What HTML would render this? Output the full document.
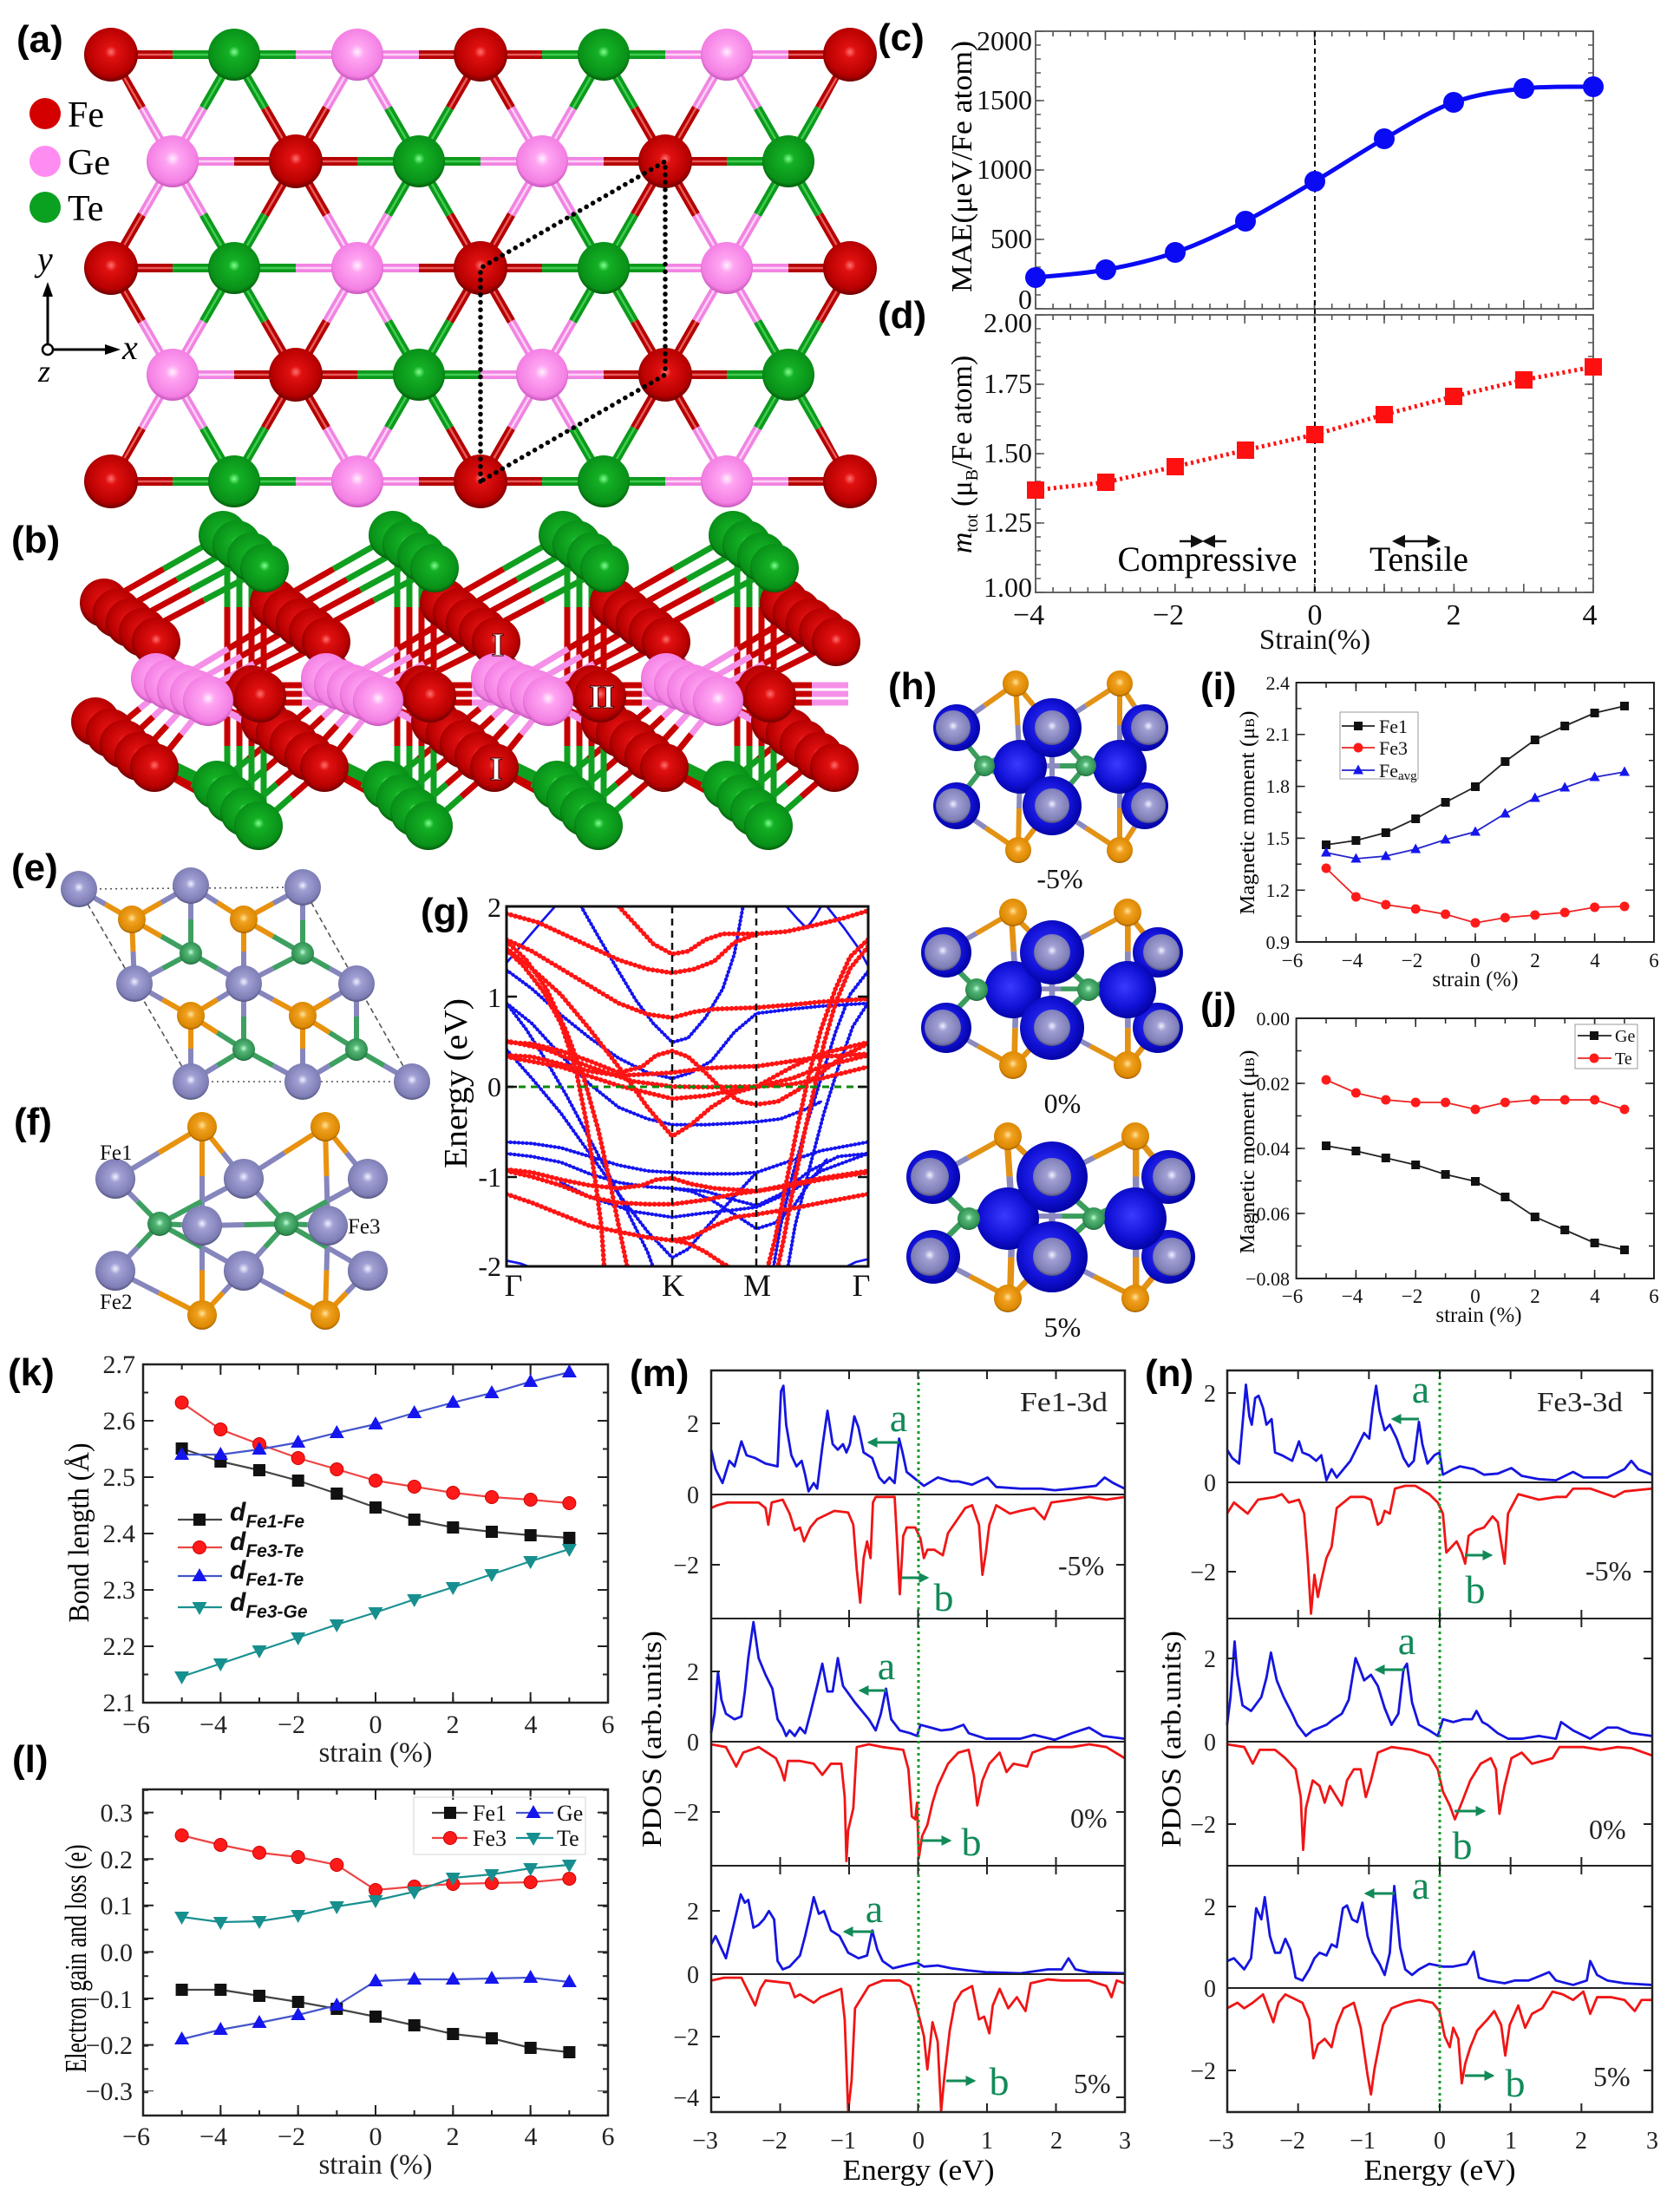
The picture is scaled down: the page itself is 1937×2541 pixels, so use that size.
<!DOCTYPE html>
<html><head><meta charset="utf-8">
<style>
html,body{margin:0;padding:0;background:#fff;overflow:hidden;}
svg{display:block;}
.sf{font-family:"Liberation Serif","DejaVu Serif",serif;}
.ss{font-family:"Liberation Sans","DejaVu Sans",sans-serif;}
.pl{font-family:"Liberation Sans","DejaVu Sans",sans-serif;font-weight:bold;font-size:44px;}
</style></head><body>
<svg width="1937" height="2541" viewBox="0 0 1937 2541" xmlns="http://www.w3.org/2000/svg">
<defs>
<radialGradient id="gFe" cx="0.5" cy="0.45" r="0.55"><stop offset="0" stop-color="#ff7070"/><stop offset="0.2" stop-color="#e01010"/><stop offset="0.8" stop-color="#b80000"/><stop offset="1" stop-color="#700000"/></radialGradient>
<radialGradient id="gGe" cx="0.5" cy="0.45" r="0.55"><stop offset="0" stop-color="#fff0fd"/><stop offset="0.25" stop-color="#ffa4f2"/><stop offset="0.85" stop-color="#f37fe3"/><stop offset="1" stop-color="#c655bb"/></radialGradient>
<radialGradient id="gTe" cx="0.5" cy="0.45" r="0.55"><stop offset="0" stop-color="#80ff90"/><stop offset="0.2" stop-color="#14b024"/><stop offset="0.85" stop-color="#089018"/><stop offset="1" stop-color="#045a0a"/></radialGradient>
<radialGradient id="gPu" cx="0.5" cy="0.45" r="0.55"><stop offset="0" stop-color="#f0f0ff"/><stop offset="0.25" stop-color="#a0a0d4"/><stop offset="0.85" stop-color="#7e7eb6"/><stop offset="1" stop-color="#52527e"/></radialGradient>
<radialGradient id="gOr" cx="0.5" cy="0.45" r="0.55"><stop offset="0" stop-color="#ffe49a"/><stop offset="0.3" stop-color="#f0a020"/><stop offset="0.85" stop-color="#dc8800"/><stop offset="1" stop-color="#9a5800"/></radialGradient>
<radialGradient id="gGr" cx="0.5" cy="0.45" r="0.55"><stop offset="0" stop-color="#c0ffd8"/><stop offset="0.3" stop-color="#55b577"/><stop offset="0.85" stop-color="#2f9052"/><stop offset="1" stop-color="#1c6036"/></radialGradient>
<radialGradient id="gBl" cx="0.45" cy="0.45" r="0.6"><stop offset="0" stop-color="#3a3aff"/><stop offset="0.6" stop-color="#1212d8"/><stop offset="1" stop-color="#00009a"/></radialGradient>

<clipPath id="clipA"><polygon points="122,57 986,57 916,186 986,309 916,432 986,561 122,561 192,432 122,309 192,186"/></clipPath>
<clipPath id="clipG"><rect x="584" y="1045" width="417" height="415"/></clipPath>

<marker id="ahG" viewBox="0 0 10 10" refX="8" refY="5" markerWidth="4" markerHeight="4" orient="auto"><path d="M0 0L10 5L0 10Z" fill="#128a58"/></marker>
<marker id="ahK" viewBox="0 0 10 10" refX="8" refY="5" markerWidth="6" markerHeight="6" orient="auto"><path d="M0 0L10 5L0 10Z" fill="#111"/></marker>

<g id="spFe"><path d="M0 0H71M0 0L35.5 61.5M0 0L-35.5 61.5M0 0H-71M0 0L-35.5 -61.5M0 0L35.5 -61.5" stroke="#b40000" stroke-width="10"/><path d="M0 0H71M0 0L35.5 61.5M0 0L-35.5 61.5M0 0H-71M0 0L-35.5 -61.5M0 0L35.5 -61.5" stroke="#e85a5a" stroke-width="2.5"/></g>
<g id="spGe"><path d="M0 0H71M0 0L35.5 61.5M0 0L-35.5 61.5M0 0H-71M0 0L-35.5 -61.5M0 0L35.5 -61.5" stroke="#f184e2" stroke-width="10"/><path d="M0 0H71M0 0L35.5 61.5M0 0L-35.5 61.5M0 0H-71M0 0L-35.5 -61.5M0 0L35.5 -61.5" stroke="#ffd2f8" stroke-width="2.5"/></g>
<g id="spTe"><path d="M0 0H71M0 0L35.5 61.5M0 0L-35.5 61.5M0 0H-71M0 0L-35.5 -61.5M0 0L35.5 -61.5" stroke="#0c9a1c" stroke-width="10"/><path d="M0 0H71M0 0L35.5 61.5M0 0L-35.5 61.5M0 0H-71M0 0L-35.5 -61.5M0 0L35.5 -61.5" stroke="#40cc50" stroke-width="2.5"/></g>
<circle id="aFe" r="31" fill="url(#gFe)"/>
<circle id="aGe" r="30" fill="url(#gGe)"/>
<circle id="aTe" r="30" fill="url(#gTe)"/>

<g id="bBond" fill="none" stroke-width="7">
<path stroke="#c80000" d="M120 695L188.5 656M135 706.3L204 668M150 717.6L219.5 680M165 729L235 692M286.5 656L316 695M302 668L331 706.3M317.5 680L346 717.6M333 692L361 729M135 707L165 748M150 718L180 756.5M165 729L195 765M180 740L210 774M127 845L161 817M143 858L176.5 826.5M160 872L192.5 836.5M178 885L209 846.5M259 817L323 845M274.5 826.5L339 858M290.5 836.5L356 872M307 846.5L374 885M263 748L331 707M278 756.5L346 718M293 765L361 729M308 774L376 740M305 790L348 790M305 800L348 800M305 810L348 810M127 845L188.5 875M143 858L204.5 889.5M160 872L221 904M178 885L238 918.5M286.5 875L323 845M302.5 889.5L339 858M319 904L356 872M336 918.5L374 885M262 700V860M276 700V860M290 700V860M304 700V860"/>
<path stroke="#10a020" d="M188.5 656L257 617M204 668L273 629.7M219.5 680L289 642.4M235 692L305 655M257 617L286.5 656M273 629.7L302 668M289 642.4L317.5 680M305 655L333 692M188.5 875L250 905M204.5 889.5L266 921M221 904L282 936M238 918.5L298 952M250 905L286.5 875M266 921L302.5 889.5M282 936L319 904M298 952L336 918.5M262 645V700M276 645V700M290 645V700M304 645V700M262 860V935M276 860V935M290 860V935M304 860V935"/>
<path stroke="#f590e8" d="M195 789L165 748M210 795L180 756.5M225 801L195 765M240 808L210 774M195 789L161 817M210 795L176.5 826.5M225 801L192.5 836.5M240 808L209 846.5M195 789L259 817M210 795L274.5 826.5M225 801L290.5 836.5M240 808L307 846.5M195 789L263 748M210 795L278 756.5M225 801L293 765M240 808L308 774M348 790L390 790M348 800L390 800M348 810L390 810"/>
</g>
<g id="bRU" fill="url(#gFe)"><circle cx="120" cy="695" r="28"/><circle cx="135" cy="707" r="28"/><circle cx="150" cy="718" r="28"/><circle cx="165" cy="729" r="28"/><circle cx="180" cy="740" r="28"/></g>
<g id="bGT" fill="url(#gTe)"><circle cx="257" cy="617" r="28"/><circle cx="273" cy="628" r="28"/><circle cx="290" cy="642" r="28"/><circle cx="305" cy="655" r="28"/></g>
<g id="bRL" fill="url(#gFe)"><circle cx="110" cy="832" r="28"/><circle cx="127" cy="845" r="28"/><circle cx="143" cy="858" r="28"/><circle cx="160" cy="872" r="28"/><circle cx="178" cy="885" r="28"/></g>
<g id="bMR" fill="url(#gFe)"><circle cx="290" cy="795" r="28"/><circle cx="300" cy="803" r="30"/></g>
<g id="bGe" fill="url(#gGe)"><circle cx="180" cy="782" r="29"/><circle cx="195" cy="789" r="29"/><circle cx="210" cy="795" r="29"/><circle cx="225" cy="801" r="29"/><circle cx="240" cy="808" r="29"/></g>
<g id="bGB" fill="url(#gTe)"><circle cx="250" cy="905" r="28"/><circle cx="266" cy="921" r="28"/><circle cx="282" cy="936" r="28"/><circle cx="298" cy="952" r="28"/></g>

<g id="hBond" fill="none" stroke-width="6">
<path stroke="#e39214" d="M1171 788L1135 813.5M1171 788L1192 813.5M1171 788L1173.5 836M1291 788L1252 813.5M1291 788L1307.5 813.5M1291 788L1291 836M1174 980L1136.5 954.5M1174 980L1193.5 954.5M1174 980L1175 932M1291 980L1252 954.5M1291 980L1307.5 954.5M1291 980L1291 932"/>
<path stroke="#8a8ac0" d="M1099 839L1135 813.5M1213 839L1192 813.5M1213 839L1252 813.5M1324 839L1307.5 813.5M1176 884L1173.5 836M1176 884L1175 932M1291 884L1291 836M1291 884L1291 932M1099 839L1117 861M1099 929L1117 906M1213 839L1174 861M1213 929L1174 906M1213 839L1232.5 861M1213 929L1232.5 906M1324 839L1288 861M1324 929L1288 906M1165 883L1222 883M1099 929L1136.5 954.5M1213 929L1193.5 954.5M1213 929L1252 954.5M1324 929L1307.5 954.5M1213 839L1213 929"/>
<path stroke="#3b9d5d" d="M1135 883L1117 861M1135 883L1117 906M1135 883L1174 861M1135 883L1174 906M1135 883L1165 883M1252 883L1232.5 861M1252 883L1232.5 906M1252 883L1288 861M1252 883L1288 906M1252 883L1222 883"/>
</g>

<rect id="mS" x="-7" y="-7" width="14" height="14" fill="#111"/>
<circle id="mC" r="7.5" fill="#ff1a1a" stroke="#c00" stroke-width="1"/>
<path id="mT" d="M0 -9L8.5 6L-8.5 6Z" fill="#1515ee"/>
<path id="mD" d="M0 9L8.5 -6L-8.5 -6Z" fill="#178f8f"/>
<rect id="sS" x="-5" y="-5" width="10" height="10" fill="#111"/>
<circle id="sC" r="5.5" fill="#ff1a1a"/>
<path id="sT" d="M0 -6.5L6 4.5L-6 4.5Z" fill="#1515ee"/>
</defs>

<rect width="1937" height="2541" fill="#fff"/>

<!-- ================= (a) ================= -->
<g clip-path="url(#clipA)">
<use href="#spFe" x="128" y="63"/><use href="#spTe" x="270" y="63"/><use href="#spGe" x="412" y="63"/><use href="#spFe" x="554" y="63"/><use href="#spTe" x="696" y="63"/><use href="#spGe" x="838" y="63"/><use href="#spFe" x="980" y="63"/>
<use href="#spGe" x="199" y="186"/><use href="#spFe" x="341" y="186"/><use href="#spTe" x="483" y="186"/><use href="#spGe" x="625" y="186"/><use href="#spFe" x="767" y="186"/><use href="#spTe" x="909" y="186"/>
<use href="#spFe" x="128" y="309"/><use href="#spTe" x="270" y="309"/><use href="#spGe" x="412" y="309"/><use href="#spFe" x="554" y="309"/><use href="#spTe" x="696" y="309"/><use href="#spGe" x="838" y="309"/><use href="#spFe" x="980" y="309"/>
<use href="#spGe" x="199" y="432"/><use href="#spFe" x="341" y="432"/><use href="#spTe" x="483" y="432"/><use href="#spGe" x="625" y="432"/><use href="#spFe" x="767" y="432"/><use href="#spTe" x="909" y="432"/>
<use href="#spFe" x="128" y="555"/><use href="#spTe" x="270" y="555"/><use href="#spGe" x="412" y="555"/><use href="#spFe" x="554" y="555"/><use href="#spTe" x="696" y="555"/><use href="#spGe" x="838" y="555"/><use href="#spFe" x="980" y="555"/>
</g>
<use href="#aFe" x="128" y="63"/><use href="#aTe" x="270" y="63"/><use href="#aGe" x="412" y="63"/><use href="#aFe" x="554" y="63"/><use href="#aTe" x="696" y="63"/><use href="#aGe" x="838" y="63"/><use href="#aFe" x="980" y="63"/>
<use href="#aGe" x="199" y="186"/><use href="#aFe" x="341" y="186"/><use href="#aTe" x="483" y="186"/><use href="#aGe" x="625" y="186"/><use href="#aFe" x="767" y="186"/><use href="#aTe" x="909" y="186"/>
<use href="#aFe" x="128" y="309"/><use href="#aTe" x="270" y="309"/><use href="#aGe" x="412" y="309"/><use href="#aFe" x="554" y="309"/><use href="#aTe" x="696" y="309"/><use href="#aGe" x="838" y="309"/><use href="#aFe" x="980" y="309"/>
<use href="#aGe" x="199" y="432"/><use href="#aFe" x="341" y="432"/><use href="#aTe" x="483" y="432"/><use href="#aGe" x="625" y="432"/><use href="#aFe" x="767" y="432"/><use href="#aTe" x="909" y="432"/>
<use href="#aFe" x="128" y="555"/><use href="#aTe" x="270" y="555"/><use href="#aGe" x="412" y="555"/><use href="#aFe" x="554" y="555"/><use href="#aTe" x="696" y="555"/><use href="#aGe" x="838" y="555"/><use href="#aFe" x="980" y="555"/>
<path d="M554 555L554 309L767 186L767 432Z" fill="none" stroke="#000" stroke-width="5.5" stroke-linecap="round" stroke-dasharray="0.1 8.5"/>
<text class="pl" x="19" y="60">(a)</text>
<circle cx="52" cy="131" r="18" fill="#d40000"/><circle cx="52" cy="186" r="18" fill="#ff8cf0"/><circle cx="52" cy="239" r="18" fill="#0aa020"/>
<text class="sf" font-size="42" x="78" y="146">Fe</text>
<text class="sf" font-size="42" x="78" y="201">Ge</text>
<text class="sf" font-size="42" x="78" y="254">Te</text>
<line x1="55" y1="403" x2="55" y2="338" stroke="#000" stroke-width="3"/><path d="M55 325L49 342L61 342Z" fill="#000"/>
<line x1="55" y1="403" x2="124" y2="403" stroke="#000" stroke-width="3"/><path d="M139 403L121 397L121 409Z" fill="#000"/>
<circle cx="55" cy="403" r="6" fill="#fff" stroke="#000" stroke-width="2.5"/>
<text class="sf" font-style="italic" font-size="40" x="43" y="312">y</text>
<text class="sf" font-style="italic" font-size="40" x="141" y="414">x</text>
<text class="sf" font-style="italic" font-size="36" x="44" y="440">z</text>

<!-- ================= (b) ================= -->
<use href="#bBond"/><use href="#bBond" transform="translate(196,0)"/><use href="#bBond" transform="translate(392,0)"/><use href="#bBond" transform="translate(588,0)"/>
<use href="#bRU"/><use href="#bRU" transform="translate(196,0)"/><use href="#bRU" transform="translate(392,0)"/><use href="#bRU" transform="translate(588,0)"/><use href="#bRU" transform="translate(784,0)"/>
<use href="#bGT"/><use href="#bGT" transform="translate(196,0)"/><use href="#bGT" transform="translate(392,0)"/><use href="#bGT" transform="translate(588,0)"/>
<use href="#bRL"/><use href="#bRL" transform="translate(196,0)"/><use href="#bRL" transform="translate(392,0)"/><use href="#bRL" transform="translate(588,0)"/><use href="#bRL" transform="translate(784,0)"/>
<use href="#bMR"/><use href="#bMR" transform="translate(196,0)"/><use href="#bMR" transform="translate(392,0)"/><use href="#bMR" transform="translate(588,0)"/>
<use href="#bGe"/><use href="#bGe" transform="translate(196,0)"/><use href="#bGe" transform="translate(392,0)"/><use href="#bGe" transform="translate(588,0)"/>
<use href="#bGB"/><use href="#bGB" transform="translate(196,0)"/><use href="#bGB" transform="translate(392,0)"/><use href="#bGB" transform="translate(588,0)"/>
<g class="sf" font-weight="bold" font-size="38" fill="#fff" stroke="#3a0000" stroke-width="1" text-anchor="middle">
<text x="574" y="756">I</text><text x="694" y="816">II</text><text x="572" y="899">I</text></g>
<text class="pl" x="13" y="637">(b)</text>

<!-- ================= (c)/(d) ================= -->
<text class="pl" x="1012" y="58">(c)</text>
<text class="pl" x="1012" y="378">(d)</text>
<rect x="1194" y="36" width="643" height="320" fill="none" stroke="#666" stroke-width="2"/>
<rect x="1194" y="363" width="643" height="320" fill="none" stroke="#666" stroke-width="2"/>
<g stroke="#555">
<line x1="1194" y1="353" x2="1837" y2="353" stroke-width="6" stroke-dasharray="1.6 18.5" stroke-dashoffset="0.8"/>
<line x1="1194" y1="351" x2="1837" y2="351" stroke-width="10" stroke-dasharray="1.6 78.8" stroke-dashoffset="0.8"/>
<line x1="1194" y1="39" x2="1837" y2="39" stroke-width="6" stroke-dasharray="1.6 18.5" stroke-dashoffset="0.8"/>
<line x1="1194" y1="41" x2="1837" y2="41" stroke-width="10" stroke-dasharray="1.6 78.8" stroke-dashoffset="0.8"/>
<line x1="1194" y1="366" x2="1837" y2="366" stroke-width="6" stroke-dasharray="1.6 18.5" stroke-dashoffset="0.8"/>
<line x1="1194" y1="368" x2="1837" y2="368" stroke-width="10" stroke-dasharray="1.6 78.8" stroke-dashoffset="0.8"/>
<line x1="1194" y1="680" x2="1837" y2="680" stroke-width="6" stroke-dasharray="1.6 18.5" stroke-dashoffset="0.8"/>
<line x1="1194" y1="678" x2="1837" y2="678" stroke-width="10" stroke-dasharray="1.6 78.8" stroke-dashoffset="0.8"/>
<line x1="1197" y1="356" x2="1197" y2="36" stroke-width="6" stroke-dasharray="1.6 14.4" stroke-dashoffset="0.8"/>
<line x1="1199" y1="356" x2="1199" y2="36" stroke-width="10" stroke-dasharray="1.6 78.4" stroke-dashoffset="0.8"/>
<line x1="1834" y1="356" x2="1834" y2="36" stroke-width="6" stroke-dasharray="1.6 14.4" stroke-dashoffset="0.8"/>
<line x1="1832" y1="356" x2="1832" y2="36" stroke-width="10" stroke-dasharray="1.6 78.4" stroke-dashoffset="0.8"/>
<line x1="1197" y1="683" x2="1197" y2="363" stroke-width="6" stroke-dasharray="1.6 14.4" stroke-dashoffset="0.8"/>
<line x1="1199" y1="683" x2="1199" y2="363" stroke-width="10" stroke-dasharray="1.6 78.4" stroke-dashoffset="0.8"/>
<line x1="1834" y1="683" x2="1834" y2="363" stroke-width="6" stroke-dasharray="1.6 14.4" stroke-dashoffset="0.8"/>
<line x1="1832" y1="683" x2="1832" y2="363" stroke-width="10" stroke-dasharray="1.6 78.4" stroke-dashoffset="0.8"/>
</g>
<line x1="1516" y1="36" x2="1516" y2="683" stroke="#111" stroke-width="2" stroke-dasharray="6 4"/>
<path d="M1194 320 C1207.5 318.5 1248.2 315.8 1275 311 C1301.8 306.2 1328.2 300.3 1355 291 C1381.8 281.7 1409.2 268.7 1436 255 C1462.8 241.3 1489.3 224.8 1516 209 C1542.7 193.2 1569.3 175.2 1596 160 C1622.7 144.8 1649.2 127.7 1676 118 C1702.8 108.3 1730.2 105 1757 102 C1783.8 99 1823.7 100.3 1837 100" fill="none" stroke="#0a0af5" stroke-width="5"/>
<g fill="#0a0af5"><circle cx="1194" cy="320" r="12"/><circle cx="1275" cy="311" r="12"/><circle cx="1355" cy="291" r="12"/><circle cx="1436" cy="255" r="12"/><circle cx="1516" cy="209" r="12"/><circle cx="1596" cy="160" r="12"/><circle cx="1676" cy="118" r="12"/><circle cx="1757" cy="102" r="12"/><circle cx="1837" cy="100" r="12"/></g>
<polyline points="1194,565 1275,556 1355,538 1436,519 1516,501 1596,478 1676,457 1757,438 1837,423" fill="none" stroke="#ff1010" stroke-width="5" stroke-dasharray="3 4"/>
<g fill="#ff1010"><rect x="1184" y="555" width="20" height="20"/><rect x="1265" y="546" width="20" height="20"/><rect x="1345" y="528" width="20" height="20"/><rect x="1426" y="509" width="20" height="20"/><rect x="1506" y="491" width="20" height="20"/><rect x="1586" y="468" width="20" height="20"/><rect x="1666" y="447" width="20" height="20"/><rect x="1747" y="428" width="20" height="20"/><rect x="1827" y="413" width="20" height="20"/></g>
<g class="sf" font-size="32" text-anchor="end" fill="#111">
<text x="1190" y="58">2000</text><text x="1190" y="126">1500</text><text x="1190" y="206">1000</text><text x="1190" y="286">500</text><text x="1190" y="356">0</text>
<text x="1190" y="383">2.00</text><text x="1190" y="453">1.75</text><text x="1190" y="533">1.50</text><text x="1190" y="613">1.25</text><text x="1190" y="688">1.00</text>
</g>
<g class="sf" font-size="34" text-anchor="middle" fill="#111">
<text x="1186" y="720">−4</text><text x="1347" y="720">−2</text><text x="1516" y="720">0</text><text x="1676" y="720">2</text><text x="1833" y="720">4</text>
<text x="1516" y="748" font-size="33">Strain(%)</text>
</g>
<text class="sf" font-size="34" text-anchor="middle" transform="translate(1120,192) rotate(-90)" textLength="290" lengthAdjust="spacingAndGlyphs">MAE(μeV/Fe atom)</text>
<text class="sf" font-size="34" text-anchor="middle" transform="translate(1120,524) rotate(-90)"><tspan font-style="italic">m</tspan><tspan font-size="20" dy="7">tot</tspan><tspan dy="-7"> (μ</tspan><tspan font-size="20" dy="7">B</tspan><tspan dy="-7">/Fe atom)</tspan></text>
<text class="sf" font-size="40" x="1392" y="658" text-anchor="middle" textLength="207" lengthAdjust="spacingAndGlyphs">Compressive</text>
<text class="sf" font-size="40" x="1636" y="658" text-anchor="middle" textLength="114" lengthAdjust="spacingAndGlyphs">Tensile</text>
<g stroke="#111" stroke-width="2.5"><line x1="1360" y1="624" x2="1385" y2="624" marker-end="url(#ahK)"/><line x1="1414" y1="624" x2="1389" y2="624" marker-end="url(#ahK)"/><line x1="1633" y1="624" x2="1608" y2="624" marker-end="url(#ahK)"/><line x1="1633" y1="624" x2="1658" y2="624" marker-end="url(#ahK)"/></g>

<!-- ================= (e) ================= -->
<text class="pl" x="13" y="1015">(e)</text>
<g fill="none" stroke="#555" stroke-width="1.6">
<path d="M91 1025L349 1023M220 1247L475 1247" stroke-dasharray="2 4"/>
<path d="M349 1023L475 1247M91 1025L220 1247" stroke-dasharray="6 4"/>
</g>
<g fill="none" stroke-width="6">
<path stroke="#8686bd" d="M91 1025L121.5 1042.5M220 1021L186 1040.5M220 1021L250.5 1040.5M349 1023L315 1041.5M155 1134L153.5 1097M281 1134L281 1097M220 1021L220 1060M349 1023L349 1061M155 1134L187.5 1116.5M281 1134L250.5 1116.5M281 1134L315 1116.5M411 1134L380 1116.5M155 1134L187.5 1152.5M281 1134L250.5 1152.5M281 1134L315 1152.5M411 1134L380 1152.5M220 1247L220 1209M349 1247L349 1209M281 1134L281 1172M220 1247L250.5 1228.5M349 1247L315 1228.5M411 1134L411 1172M349 1247L380 1228.5M475 1247L443 1228.5"/>
<path stroke="#e8920e" d="M152 1060L121.5 1042.5M152 1060L186 1040.5M152 1060L153.5 1097M152 1060L186 1079.5M281 1060L250.5 1040.5M281 1060L315 1041.5M281 1060L281 1097M281 1060L315 1079.5M220 1171L187.5 1152.5M220 1171L250.5 1152.5M220 1171L220 1209M220 1171L250.5 1190.5M349 1171L315 1152.5M349 1171L380 1152.5M349 1171L349 1209M349 1171L380 1190.5"/>
<path stroke="#3da060" d="M220 1099L220 1060M220 1099L187.5 1116.5M220 1099L250.5 1116.5M220 1099L186 1079.5M349 1099L349 1061M349 1099L315 1116.5M349 1099L380 1116.5M349 1099L315 1079.5M281 1210L281 1172M281 1210L250.5 1228.5M281 1210L315 1228.5M281 1210L250.5 1190.5M411 1210L411 1172M411 1210L380 1228.5M411 1210L443 1228.5M411 1210L380 1190.5"/>
</g>
<g fill="url(#gPu)"><circle cx="91" cy="1025" r="21"/><circle cx="220" cy="1021" r="21"/><circle cx="349" cy="1023" r="21"/><circle cx="155" cy="1134" r="21"/><circle cx="281" cy="1134" r="21"/><circle cx="411" cy="1134" r="21"/><circle cx="220" cy="1247" r="21"/><circle cx="349" cy="1247" r="21"/><circle cx="475" cy="1247" r="21"/></g>
<g fill="url(#gOr)"><circle cx="152" cy="1060" r="16"/><circle cx="281" cy="1060" r="16"/><circle cx="220" cy="1171" r="16"/><circle cx="349" cy="1171" r="16"/></g>
<g fill="url(#gGr)"><circle cx="220" cy="1099" r="13"/><circle cx="349" cy="1099" r="13"/><circle cx="281" cy="1210" r="13"/><circle cx="411" cy="1210" r="13"/></g>

<!-- ================= (f) ================= -->
<text class="pl" x="16" y="1308">(f)</text>
<g fill="none" stroke-width="6">
<path stroke="#e8920e" d="M233 1299L183 1329M233 1299L257 1329M233 1299L233 1356M375 1299L328 1329M375 1299L399.5 1329M375 1299L376.5 1356M233 1516L183 1490.5M233 1516L257 1490.5M375 1516L328 1490.5M375 1516L399.5 1490.5M233 1516L233 1464.5M375 1516L376.5 1464.5"/>
<path stroke="#8686bd" d="M133 1359L183 1329M281 1359L257 1329M233 1413L233 1356M281 1359L328 1329M424 1359L399.5 1329M378 1413L376.5 1356M133 1359L158.5 1385M281 1359L232.5 1385M281 1359L305.5 1385M424 1359L377 1385M233 1413L208.5 1412M233 1413L281.5 1412M378 1413L354 1412M133 1465L158.5 1438M281 1465L232.5 1438M281 1465L305.5 1438M424 1465L377 1438M133 1465L183 1490.5M281 1465L257 1490.5M281 1465L328 1490.5M424 1465L399.5 1490.5M233 1413L233 1464.5M378 1413L376.5 1464.5"/>
<path stroke="#3da060" d="M184 1411L158.5 1385M184 1411L232.5 1385M330 1411L305.5 1385M330 1411L377 1385M184 1411L208.5 1412M330 1411L281.5 1412M330 1411L354 1412M184 1411L158.5 1438M184 1411L232.5 1438M330 1411L305.5 1438M330 1411L377 1438"/>
</g>
<g fill="url(#gPu)"><circle cx="133" cy="1359" r="23"/><circle cx="281" cy="1359" r="23"/><circle cx="424" cy="1359" r="23"/><circle cx="233" cy="1413" r="23"/><circle cx="378" cy="1413" r="23"/><circle cx="133" cy="1465" r="23"/><circle cx="281" cy="1465" r="23"/><circle cx="424" cy="1465" r="23"/></g>
<g fill="url(#gGr)"><circle cx="184" cy="1411" r="14"/><circle cx="330" cy="1411" r="14"/></g>
<g fill="url(#gOr)"><circle cx="233" cy="1299" r="17"/><circle cx="375" cy="1299" r="17"/><circle cx="233" cy="1516" r="17"/><circle cx="375" cy="1516" r="17"/></g>
<g class="sf" font-size="25" fill="#111"><text x="115" y="1337">Fe1</text><text x="115" y="1509">Fe2</text><text x="401" y="1422">Fe3</text></g>

<!-- ================= (g) ================= -->
<text class="pl" x="485" y="1066">(g)</text>
<g clip-path="url(#clipG)">
<g transform="translate(580,1030) scale(0.33333)" fill="none" stroke-linejoin="round" stroke-linecap="round">
<g stroke="#1414f0" stroke-width="8">
<polyline id="B1" points="12,240 80,160 140,90 180,45"/>
<polyline id="B2" points="270,45 330,150 400,270 460,370 520,450 585,515 640,500 700,430 760,330 800,210 830,45"/>
<polyline id="B3" points="12,265 100,330 200,420 300,500 400,570 500,620 585,640 650,620 720,580 800,480 877,415 1000,400 1100,390 1262,380"/>
<polyline id="B4" points="12,380 100,450 200,560 300,660 400,740 500,780 585,800 700,800 800,795 877,790 960,780 1050,745 1100,720"/>
<polyline id="B5" points="12,540 100,640 200,760 300,900 400,1040 500,1170 585,1260 640,1230 700,1160 780,1070 877,965"/>
<polyline id="B6" points="12,860 100,865 200,880 300,910 400,940 500,960 585,965 700,970 800,970 877,965 980,930 1100,890 1262,860"/>
<polyline id="B7" points="12,900 100,910 200,930 300,970 400,1000 500,1015 585,1020 700,1030 800,1060 877,1080 960,1040 1060,960 1160,910 1262,900"/>
<polyline id="B9" points="585,1020 650,1030 720,1060 800,1110 877,1160 940,1140 1000,1090 1060,1000 1120,920"/>
<polyline id="B10" points="12,1270 60,1280 100,1295"/>
<polyline id="B11" points="1180,1295 1220,1275 1262,1265"/>
<polyline id="B12" points="1262,270 1200,350 1150,480 1100,640 1050,800 1000,980 960,1150 935,1295"/>
<polyline id="B13" points="1262,380 1210,460 1160,600 1110,760 1060,950 1010,1150 985,1295"/>
<polyline id="B14" points="980,45 1020,90 1050,120 1080,80 1100,45"/>
<polyline id="B15" points="1120,45 1180,120 1230,190 1262,250"/>
<polyline id="B16" points="12,380 80,470 150,580 220,700 300,850 380,1000 450,1140 500,1240 520,1295"/>
<polyline id="B18" points="200,1000 300,1050 450,1100 585,1120 700,1105 800,1095 877,1085 1000,1030 1100,960 1262,900"/>
</g>
<g stroke="#1414f0" stroke-width="13" stroke-dasharray="0 14">
<use href="#B2"/><use href="#B3"/><use href="#B4"/><use href="#B5"/><use href="#B6"/><use href="#B7"/><use href="#B9"/><use href="#B12"/><use href="#B13"/><use href="#B16"/><use href="#B18"/>
</g>
<g stroke="#ff1414" stroke-width="10">
<polyline id="R1" points="12,70 120,100 250,160 400,230 500,262 585,275 660,262 730,235 800,170 877,140 980,132 1070,112 1180,85 1262,60"/>
<polyline id="R2" points="400,45 460,110 520,175 585,210 640,200 700,160 760,140 877,140"/>
<polyline id="R3" points="12,160 100,200 200,260 300,320 400,380 500,418 585,430 660,410 730,400 877,395 1000,385 1100,375 1262,365"/>
<polyline id="R4" points="12,190 100,260 200,350 300,470 400,600 500,740 585,840 650,800 720,740 800,690 877,668 1000,600 1100,555 1262,515"/>
<polyline id="R5" points="12,515 100,520 200,545 300,580 400,620 480,600 530,560 585,545 640,565 700,620 760,680 820,720 877,730 950,720 1020,680 1100,620 1180,560 1262,520"/>
<polyline id="R6" points="12,560 100,565 200,590 300,615 400,630 500,625 585,620 700,605 800,600 877,598 1000,580 1100,565 1262,555"/>
<polyline id="R7" points="12,510 150,540 300,600 450,650 585,668 700,670 877,668 1000,640 1100,600 1262,560"/>
<polyline id="R8" points="12,565 200,600 400,665 585,710 700,700 800,680 877,668 1000,660 1100,640 1262,600"/>
<polyline id="R9" points="1262,160 1200,220 1150,330 1100,470 1060,620 1020,800 980,1000 940,1200 915,1295"/>
<polyline id="R10" points="1262,185 1200,260 1150,380 1110,520 1080,660 1040,840 1000,1040 970,1200 950,1295"/>
<polyline id="R11" points="12,165 80,230 150,330 220,480 280,640 330,820 370,1000 400,1150 430,1295"/>
<polyline id="R12" points="12,195 70,250 140,340 200,450 250,600 290,800 320,1000 340,1150 350,1295"/>
<polyline id="R13" points="12,955 100,965 200,990 300,1010 400,1020 480,1010 530,990 585,985 650,1005 730,1020 877,1030 1000,1005 1100,985 1262,960"/>
<polyline id="R14" points="12,960 100,980 200,1010 300,1050 400,1070 500,1075 585,1075 700,1060 800,1040 877,1030 1000,1010 1100,990 1262,965"/>
<polyline id="R15" points="12,1040 100,1070 200,1110 300,1150 400,1170 500,1190 585,1200 650,1190 730,1150 800,1120 877,1110 1000,1090 1100,1070 1262,1040"/>
<polyline id="R16" points="585,1200 640,1210 700,1240 760,1280 790,1295"/>
</g>
<g stroke="#ff1414" stroke-width="17" stroke-dasharray="0 16">
<use href="#R1"/><use href="#R2"/><use href="#R3"/><use href="#R4"/><use href="#R5"/><use href="#R6"/><use href="#R7"/><use href="#R8"/><use href="#R9"/><use href="#R10"/><use href="#R11"/><use href="#R12"/><use href="#R13"/><use href="#R14"/><use href="#R15"/><use href="#R16"/>
</g>
</g>
</g>
<line x1="584" y1="1253" x2="1001" y2="1253" stroke="#0a8a0a" stroke-width="3" stroke-dasharray="8 6"/>
<line x1="775" y1="1045" x2="775" y2="1460" stroke="#111" stroke-width="2.5" stroke-dasharray="8 6"/>
<line x1="872" y1="1045" x2="872" y2="1460" stroke="#111" stroke-width="2.5" stroke-dasharray="8 6"/>
<rect x="584" y="1045" width="417" height="415" fill="none" stroke="#111" stroke-width="3"/>
<path d="M584 1149h12M584 1253h12M584 1357h12M1001 1149h-12M1001 1253h-12M1001 1357h-12" stroke="#111" stroke-width="2.5"/>
<g class="sf" font-size="32" text-anchor="end" fill="#111"><text x="578" y="1057">2</text><text x="578" y="1161">1</text><text x="578" y="1264">0</text><text x="578" y="1368">-1</text><text x="578" y="1471">-2</text></g>
<g class="sf" font-size="36" text-anchor="middle" fill="#111"><text x="592" y="1494">Γ</text><text x="776" y="1494">K</text><text x="873" y="1494">M</text><text x="993" y="1494">Γ</text></g>
<text class="sf" font-size="38" text-anchor="middle" transform="translate(538,1249) rotate(-90)" textLength="196" lengthAdjust="spacingAndGlyphs">Energy (eV)</text>

<!-- ================= (h) ================= -->
<text class="pl" x="1024" y="806">(h)</text>
<use href="#hBond"/>
<use href="#hBond" transform="translate(1213,1141) scale(1.12,0.92) translate(-1213,-884)"/>
<use href="#hBond" transform="translate(1213,1403) scale(1.24,0.97) translate(-1213,-884)"/>
<g fill="url(#gBl)">
<circle cx="1103" cy="839" r="27"/><circle cx="1320" cy="839" r="27"/><circle cx="1103" cy="929" r="27"/><circle cx="1320" cy="929" r="27"/>
<circle cx="1176" cy="884" r="31"/><circle cx="1291" cy="884" r="31"/>
<circle cx="1213" cy="839" r="34"/><circle cx="1213" cy="929" r="34"/>
<circle cx="1091" cy="1098" r="29"/><circle cx="1335" cy="1098" r="29"/><circle cx="1091" cy="1185" r="29"/><circle cx="1335" cy="1185" r="29"/>
<circle cx="1168" cy="1141" r="33"/><circle cx="1300" cy="1141" r="33"/>
<circle cx="1213" cy="1098" r="37"/><circle cx="1213" cy="1185" r="37"/>
<circle cx="1076" cy="1357" r="31"/><circle cx="1347" cy="1357" r="31"/><circle cx="1076" cy="1449" r="31"/><circle cx="1347" cy="1449" r="31"/>
<circle cx="1162" cy="1405" r="36"/><circle cx="1309" cy="1405" r="36"/>
<circle cx="1213" cy="1357" r="41"/><circle cx="1213" cy="1449" r="41"/>
</g>
<g fill="url(#gPu)">
<circle cx="1099" cy="839" r="20"/><circle cx="1213" cy="839" r="20"/><circle cx="1324" cy="839" r="20"/><circle cx="1099" cy="929" r="20"/><circle cx="1213" cy="929" r="20"/><circle cx="1324" cy="929" r="20"/>
<circle cx="1087" cy="1098" r="21"/><circle cx="1213" cy="1098" r="21"/><circle cx="1339" cy="1098" r="21"/><circle cx="1087" cy="1185" r="21"/><circle cx="1213" cy="1185" r="21"/><circle cx="1339" cy="1185" r="21"/>
<circle cx="1072" cy="1357" r="22"/><circle cx="1213" cy="1357" r="22"/><circle cx="1351" cy="1357" r="22"/><circle cx="1072" cy="1449" r="22"/><circle cx="1213" cy="1449" r="22"/><circle cx="1351" cy="1449" r="22"/>
</g>
<g fill="url(#gGr)">
<circle cx="1135" cy="883" r="12"/><circle cx="1252" cy="883" r="12"/>
<circle cx="1126" cy="1141" r="13"/><circle cx="1255" cy="1141" r="13"/>
<circle cx="1117" cy="1405" r="13"/><circle cx="1261" cy="1405" r="13"/>
</g>
<g fill="url(#gOr)">
<circle cx="1171" cy="788" r="15"/><circle cx="1291" cy="788" r="15"/><circle cx="1174" cy="980" r="15"/><circle cx="1291" cy="980" r="15"/>
<circle cx="1168" cy="1052" r="16"/><circle cx="1300" cy="1052" r="16"/><circle cx="1168" cy="1228" r="16"/><circle cx="1300" cy="1228" r="16"/>
<circle cx="1162" cy="1310" r="16"/><circle cx="1309" cy="1310" r="16"/><circle cx="1162" cy="1497" r="16"/><circle cx="1309" cy="1497" r="16"/>
</g>
<g class="sf" font-size="32" text-anchor="middle" fill="#111"><text x="1222" y="1024">-5%</text><text x="1225" y="1283">0%</text><text x="1225" y="1541">5%</text></g>

<!-- ================= (i) ================= -->
<text class="pl" x="1384" y="806">(i)</text>
<rect x="1494.6" y="787" width="412.4" height="299" fill="none" stroke="#222" stroke-width="2"/>
<g stroke="#222">
<line x1="1494.6" y1="1083" x2="1907" y2="1083" stroke-width="6" stroke-dasharray="1.5 32.9" stroke-dashoffset="0.75"/>
<line x1="1494.6" y1="1081" x2="1907" y2="1081" stroke-width="10" stroke-dasharray="1.5 67.3" stroke-dashoffset="0.75"/>
<line x1="1494.6" y1="790" x2="1907" y2="790" stroke-width="6" stroke-dasharray="1.5 32.9" stroke-dashoffset="0.75"/>
<line x1="1494.6" y1="792" x2="1907" y2="792" stroke-width="10" stroke-dasharray="1.5 67.3" stroke-dashoffset="0.75"/>
<line x1="1497.6" y1="1086" x2="1497.6" y2="787" stroke-width="6" stroke-dasharray="1.5 28.4" stroke-dashoffset="0.75"/>
<line x1="1499.6" y1="1086" x2="1499.6" y2="787" stroke-width="10" stroke-dasharray="1.5 58.3" stroke-dashoffset="0.75"/>
<line x1="1904" y1="1086" x2="1904" y2="787" stroke-width="6" stroke-dasharray="1.5 28.4" stroke-dashoffset="0.75"/>
<line x1="1902" y1="1086" x2="1902" y2="787" stroke-width="10" stroke-dasharray="1.5 58.3" stroke-dashoffset="0.75"/>
</g>
<polyline points="1529,974 1563.4,969 1597.8,960 1632.2,944 1666.6,925 1701,907 1735.4,878 1769.8,853 1804.2,837 1838.6,822 1873,814" fill="none" stroke="#222" stroke-width="1.8"/>
<polyline points="1529,1001 1563.4,1034 1597.8,1043 1632.2,1048 1666.6,1054 1701,1064 1735.4,1058 1769.8,1055 1804.2,1052 1838.6,1046 1873,1045" fill="none" stroke="#e22" stroke-width="1.8"/>
<polyline points="1529,983 1563.4,990 1597.8,987 1632.2,979 1666.6,968 1701,959 1735.4,938 1769.8,920 1804.2,908 1838.6,896 1873,890" fill="none" stroke="#22c" stroke-width="1.8"/>
<use href="#sS" x="1529" y="974"/><use href="#sS" x="1563.4" y="969"/><use href="#sS" x="1597.8" y="960"/><use href="#sS" x="1632.2" y="944"/><use href="#sS" x="1666.6" y="925"/><use href="#sS" x="1701" y="907"/><use href="#sS" x="1735.4" y="878"/><use href="#sS" x="1769.8" y="853"/><use href="#sS" x="1804.2" y="837"/><use href="#sS" x="1838.6" y="822"/><use href="#sS" x="1873" y="814"/>
<use href="#sC" x="1529" y="1001"/><use href="#sC" x="1563.4" y="1034"/><use href="#sC" x="1597.8" y="1043"/><use href="#sC" x="1632.2" y="1048"/><use href="#sC" x="1666.6" y="1054"/><use href="#sC" x="1701" y="1064"/><use href="#sC" x="1735.4" y="1058"/><use href="#sC" x="1769.8" y="1055"/><use href="#sC" x="1804.2" y="1052"/><use href="#sC" x="1838.6" y="1046"/><use href="#sC" x="1873" y="1045"/>
<use href="#sT" x="1529" y="983"/><use href="#sT" x="1563.4" y="990"/><use href="#sT" x="1597.8" y="987"/><use href="#sT" x="1632.2" y="979"/><use href="#sT" x="1666.6" y="968"/><use href="#sT" x="1701" y="959"/><use href="#sT" x="1735.4" y="938"/><use href="#sT" x="1769.8" y="920"/><use href="#sT" x="1804.2" y="908"/><use href="#sT" x="1838.6" y="896"/><use href="#sT" x="1873" y="890"/>
<rect x="1545" y="821" width="90" height="77" fill="#fff" stroke="#999" stroke-width="1"/>
<line x1="1547" y1="837" x2="1585" y2="837" stroke="#222" stroke-width="1.8"/><use href="#sS" x="1566" y="837"/>
<line x1="1547" y1="862" x2="1585" y2="862" stroke="#e22" stroke-width="1.8"/><use href="#sC" x="1566" y="862"/>
<line x1="1547" y1="888" x2="1585" y2="888" stroke="#22c" stroke-width="1.8"/><use href="#sT" x="1566" y="888"/>
<g class="sf" font-size="22" fill="#111"><text x="1590" y="845">Fe1</text><text x="1590" y="870">Fe3</text><text x="1590" y="896">Fe<tspan font-size="15" dy="3">avg</tspan></text></g>
<g class="sf" font-size="22" text-anchor="end" fill="#111"><text x="1487" y="795">2.4</text><text x="1487" y="854">2.1</text><text x="1487" y="914">1.8</text><text x="1487" y="974">1.5</text><text x="1487" y="1034">1.2</text><text x="1487" y="1094">0.9</text></g>
<g class="sf" font-size="23" text-anchor="middle" fill="#111"><text x="1490" y="1115">−6</text><text x="1559" y="1115">−4</text><text x="1628" y="1115">−2</text><text x="1701" y="1115">0</text><text x="1770" y="1115">2</text><text x="1839" y="1115">4</text><text x="1907" y="1115">6</text>
<text x="1701" y="1137" font-size="25">strain (%)</text></g>
<text class="sf" font-size="24" text-anchor="middle" transform="translate(1446,937) rotate(-90)" textLength="235" lengthAdjust="spacingAndGlyphs">Magnetic moment (μ<tspan font-size="15">B</tspan>)</text>

<!-- ================= (j) ================= -->
<text class="pl" x="1384" y="1175">(j)</text>
<rect x="1494.6" y="1174" width="412.4" height="300" fill="none" stroke="#222" stroke-width="2"/>
<g stroke="#222">
<line x1="1494.6" y1="1471" x2="1907" y2="1471" stroke-width="6" stroke-dasharray="1.5 32.9" stroke-dashoffset="0.75"/>
<line x1="1494.6" y1="1469" x2="1907" y2="1469" stroke-width="10" stroke-dasharray="1.5 67.3" stroke-dashoffset="0.75"/>
<line x1="1494.6" y1="1177" x2="1907" y2="1177" stroke-width="6" stroke-dasharray="1.5 32.9" stroke-dashoffset="0.75"/>
<line x1="1494.6" y1="1179" x2="1907" y2="1179" stroke-width="10" stroke-dasharray="1.5 67.3" stroke-dashoffset="0.75"/>
<line x1="1497.6" y1="1474" x2="1497.6" y2="1174" stroke-width="6" stroke-dasharray="1.5 36" stroke-dashoffset="0.75"/>
<line x1="1499.6" y1="1474" x2="1499.6" y2="1174" stroke-width="10" stroke-dasharray="1.5 73.5" stroke-dashoffset="0.75"/>
<line x1="1904" y1="1474" x2="1904" y2="1174" stroke-width="6" stroke-dasharray="1.5 36" stroke-dashoffset="0.75"/>
<line x1="1902" y1="1474" x2="1902" y2="1174" stroke-width="10" stroke-dasharray="1.5 73.5" stroke-dashoffset="0.75"/>
</g>
<polyline points="1529,1321 1563.4,1327 1597.8,1335 1632.2,1343 1666.6,1354 1701,1362 1735.4,1380 1769.8,1403 1804.2,1418 1838.6,1433 1873,1441" fill="none" stroke="#222" stroke-width="1.8"/>
<polyline points="1529,1245 1563.4,1260 1597.8,1268 1632.2,1271 1666.6,1271 1701,1279 1735.4,1271 1769.8,1268 1804.2,1268 1838.6,1268 1873,1279" fill="none" stroke="#e22" stroke-width="1.8"/>
<use href="#sS" x="1529" y="1321"/><use href="#sS" x="1563.4" y="1327"/><use href="#sS" x="1597.8" y="1335"/><use href="#sS" x="1632.2" y="1343"/><use href="#sS" x="1666.6" y="1354"/><use href="#sS" x="1701" y="1362"/><use href="#sS" x="1735.4" y="1380"/><use href="#sS" x="1769.8" y="1403"/><use href="#sS" x="1804.2" y="1418"/><use href="#sS" x="1838.6" y="1433"/><use href="#sS" x="1873" y="1441"/>
<use href="#sC" x="1529" y="1245"/><use href="#sC" x="1563.4" y="1260"/><use href="#sC" x="1597.8" y="1268"/><use href="#sC" x="1632.2" y="1271"/><use href="#sC" x="1666.6" y="1271"/><use href="#sC" x="1701" y="1279"/><use href="#sC" x="1735.4" y="1271"/><use href="#sC" x="1769.8" y="1268"/><use href="#sC" x="1804.2" y="1268"/><use href="#sC" x="1838.6" y="1268"/><use href="#sC" x="1873" y="1279"/>
<rect x="1816" y="1181" width="72" height="51" fill="#fff" stroke="#999" stroke-width="1"/>
<line x1="1819" y1="1194" x2="1858" y2="1194" stroke="#222" stroke-width="1.8"/><use href="#sS" x="1838" y="1194"/>
<line x1="1819" y1="1220" x2="1858" y2="1220" stroke="#e22" stroke-width="1.8"/><use href="#sC" x="1838" y="1220"/>
<g class="sf" font-size="20" fill="#111"><text x="1862" y="1201">Ge</text><text x="1862" y="1227">Te</text></g>
<g class="sf" font-size="22" text-anchor="end" fill="#111"><text x="1487" y="1182">0.00</text><text x="1487" y="1257">−0.02</text><text x="1487" y="1332">−0.04</text><text x="1487" y="1407">−0.06</text><text x="1487" y="1482">−0.08</text></g>
<g class="sf" font-size="23" text-anchor="middle" fill="#111"><text x="1490" y="1502">−6</text><text x="1559" y="1502">−4</text><text x="1628" y="1502">−2</text><text x="1701" y="1502">0</text><text x="1770" y="1502">2</text><text x="1839" y="1502">4</text><text x="1907" y="1502">6</text>
<text x="1705" y="1524" font-size="25">strain (%)</text></g>
<text class="sf" font-size="24" text-anchor="middle" transform="translate(1446,1328) rotate(-90)" textLength="235" lengthAdjust="spacingAndGlyphs">Magnetic moment (μ<tspan font-size="15">B</tspan>)</text>

<!-- ================= (k) ================= -->
<text class="pl" x="9" y="1597">(k)</text>
<rect x="165" y="1573" width="536" height="390" fill="none" stroke="#222" stroke-width="2.5"/>
<g stroke="#222">
<line x1="165" y1="1960" x2="701" y2="1960" stroke-width="6" stroke-dasharray="2 42.67" stroke-dashoffset="1"/>
<line x1="165" y1="1957" x2="701" y2="1957" stroke-width="12" stroke-dasharray="2 87.33" stroke-dashoffset="1"/>
<line x1="165" y1="1576" x2="701" y2="1576" stroke-width="6" stroke-dasharray="2 42.67" stroke-dashoffset="1"/>
<line x1="165" y1="1579" x2="701" y2="1579" stroke-width="12" stroke-dasharray="2 87.33" stroke-dashoffset="1"/>
<line x1="168" y1="1963" x2="168" y2="1573" stroke-width="6" stroke-dasharray="2 30.5" stroke-dashoffset="1"/>
<line x1="171" y1="1963" x2="171" y2="1573" stroke-width="12" stroke-dasharray="2 63" stroke-dashoffset="1"/>
<line x1="698" y1="1963" x2="698" y2="1573" stroke-width="6" stroke-dasharray="2 30.5" stroke-dashoffset="1"/>
<line x1="695" y1="1963" x2="695" y2="1573" stroke-width="12" stroke-dasharray="2 63" stroke-dashoffset="1"/>
</g>
<polyline points="209.6,1670 254.3,1685 299,1695 343.7,1707 388.3,1722 433,1738 477.7,1752 522.3,1761 567,1766 611.7,1770 656.4,1773" fill="none" stroke="#444" stroke-width="2.2"/>
<polyline points="209.6,1617 254.3,1648 299,1665 343.7,1681 388.3,1694 433,1707 477.7,1714 522.3,1721 567,1726 611.7,1729 656.4,1733" fill="none" stroke="#e44" stroke-width="2.2"/>
<polyline points="209.6,1677 254.3,1677 299,1671 343.7,1663 388.3,1652 433,1642 477.7,1629 522.3,1617 567,1606 611.7,1593 656.4,1582" fill="none" stroke="#4455cc" stroke-width="2.2"/>
<polyline points="209.6,1933 254.3,1918 299,1903 343.7,1888 388.3,1873 433,1859 477.7,1844 522.3,1830 567,1815 611.7,1800 656.4,1786" fill="none" stroke="#1a9090" stroke-width="2.2"/>
<use href="#mS" x="209.6" y="1670"/><use href="#mS" x="254.3" y="1685"/><use href="#mS" x="299" y="1695"/><use href="#mS" x="343.7" y="1707"/><use href="#mS" x="388.3" y="1722"/><use href="#mS" x="433" y="1738"/><use href="#mS" x="477.7" y="1752"/><use href="#mS" x="522.3" y="1761"/><use href="#mS" x="567" y="1766"/><use href="#mS" x="611.7" y="1770"/><use href="#mS" x="656.4" y="1773"/>
<use href="#mC" x="209.6" y="1617"/><use href="#mC" x="254.3" y="1648"/><use href="#mC" x="299" y="1665"/><use href="#mC" x="343.7" y="1681"/><use href="#mC" x="388.3" y="1694"/><use href="#mC" x="433" y="1707"/><use href="#mC" x="477.7" y="1714"/><use href="#mC" x="522.3" y="1721"/><use href="#mC" x="567" y="1726"/><use href="#mC" x="611.7" y="1729"/><use href="#mC" x="656.4" y="1733"/>
<use href="#mT" x="209.6" y="1677"/><use href="#mT" x="254.3" y="1677"/><use href="#mT" x="299" y="1671"/><use href="#mT" x="343.7" y="1663"/><use href="#mT" x="388.3" y="1652"/><use href="#mT" x="433" y="1642"/><use href="#mT" x="477.7" y="1629"/><use href="#mT" x="522.3" y="1617"/><use href="#mT" x="567" y="1606"/><use href="#mT" x="611.7" y="1593"/><use href="#mT" x="656.4" y="1582"/>
<use href="#mD" x="209.6" y="1933"/><use href="#mD" x="254.3" y="1918"/><use href="#mD" x="299" y="1903"/><use href="#mD" x="343.7" y="1888"/><use href="#mD" x="388.3" y="1873"/><use href="#mD" x="433" y="1859"/><use href="#mD" x="477.7" y="1844"/><use href="#mD" x="522.3" y="1830"/><use href="#mD" x="567" y="1815"/><use href="#mD" x="611.7" y="1800"/><use href="#mD" x="656.4" y="1786"/>
<line x1="205" y1="1752" x2="256" y2="1752" stroke="#444" stroke-width="2.2"/><use href="#mS" x="230" y="1752"/>
<line x1="205" y1="1784" x2="256" y2="1784" stroke="#e44" stroke-width="2.2"/><use href="#mC" x="230" y="1784"/>
<line x1="205" y1="1817" x2="256" y2="1817" stroke="#4455cc" stroke-width="2.2"/><use href="#mT" x="230" y="1817"/>
<line x1="205" y1="1853" x2="256" y2="1853" stroke="#1a9090" stroke-width="2.2"/><use href="#mD" x="230" y="1853"/>
<g class="ss" font-weight="bold" font-style="italic" font-size="30" fill="#111">
<text x="265" y="1753">d<tspan font-size="21" dy="8">Fe1-Fe</tspan></text>
<text x="265" y="1787">d<tspan font-size="21" dy="8">Fe3-Te</tspan></text>
<text x="265" y="1820">d<tspan font-size="21" dy="8">Fe1-Te</tspan></text>
<text x="265" y="1857">d<tspan font-size="21" dy="8">Fe3-Ge</tspan></text>
</g>
<g class="sf" font-size="30" text-anchor="end" fill="#222"><text x="156" y="1583">2.7</text><text x="156" y="1648">2.6</text><text x="156" y="1713">2.5</text><text x="156" y="1778">2.4</text><text x="156" y="1843">2.3</text><text x="156" y="1908">2.2</text><text x="156" y="1973">2.1</text></g>
<g class="sf" font-size="30" text-anchor="middle" fill="#222"><text x="157" y="1998">−6</text><text x="246" y="1998">−4</text><text x="336" y="1998">−2</text><text x="433" y="1998">0</text><text x="522" y="1998">2</text><text x="612" y="1998">4</text><text x="701" y="1998">6</text>
<text x="433" y="2031" font-size="33">strain (%)</text></g>
<text class="sf" font-size="34" text-anchor="middle" transform="translate(102,1767) rotate(-90)" textLength="207" lengthAdjust="spacingAndGlyphs">Bond length (Å)</text>

<!-- ================= (l) ================= -->
<text class="pl" x="14" y="2043">(l)</text>
<rect x="165" y="2063" width="536" height="376" fill="none" stroke="#222" stroke-width="2.5"/>
<g stroke="#222">
<line x1="165" y1="2436" x2="701" y2="2436" stroke-width="6" stroke-dasharray="2 42.67" stroke-dashoffset="1"/>
<line x1="165" y1="2433" x2="701" y2="2433" stroke-width="12" stroke-dasharray="2 87.33" stroke-dashoffset="1"/>
<line x1="165" y1="2066" x2="701" y2="2066" stroke-width="6" stroke-dasharray="2 42.67" stroke-dashoffset="1"/>
<line x1="165" y1="2069" x2="701" y2="2069" stroke-width="12" stroke-dasharray="2 87.33" stroke-dashoffset="1"/>
<line x1="168" y1="2439" x2="168" y2="2063" stroke-width="6" stroke-dasharray="2 24.8" stroke-dashoffset="1"/>
<line x1="171" y1="2411.2" x2="171" y2="2063" stroke-width="12" stroke-dasharray="2 51.6" stroke-dashoffset="1"/>
<line x1="698" y1="2439" x2="698" y2="2063" stroke-width="6" stroke-dasharray="2 24.8" stroke-dashoffset="1"/>
<line x1="695" y1="2411.2" x2="695" y2="2063" stroke-width="12" stroke-dasharray="2 51.6" stroke-dashoffset="1"/>
</g>
<rect x="477" y="2072" width="198" height="66" fill="none" stroke="#e4e4e4" stroke-width="1.5"/>
<polyline points="209.6,2294 254.3,2294 299,2301 343.7,2308 388.3,2316 433,2325 477.7,2335 522.3,2345 567,2350 611.7,2361 656.4,2366" fill="none" stroke="#444" stroke-width="2.2"/>
<polyline points="209.6,2116 254.3,2127 299,2136 343.7,2141 388.3,2150 433,2179 477.7,2175 522.3,2172 567,2171 611.7,2170 656.4,2166" fill="none" stroke="#e44" stroke-width="2.2"/>
<polyline points="209.6,2351 254.3,2340 299,2332 343.7,2323 388.3,2312 433,2284 477.7,2282 522.3,2282 567,2281 611.7,2280 656.4,2285" fill="none" stroke="#4455cc" stroke-width="2.2"/>
<polyline points="209.6,2210 254.3,2216 299,2215 343.7,2208 388.3,2198 433,2191 477.7,2181 522.3,2165 567,2161 611.7,2154 656.4,2150" fill="none" stroke="#1a9090" stroke-width="2.2"/>
<use href="#mS" x="209.6" y="2294"/><use href="#mS" x="254.3" y="2294"/><use href="#mS" x="299" y="2301"/><use href="#mS" x="343.7" y="2308"/><use href="#mS" x="388.3" y="2316"/><use href="#mS" x="433" y="2325"/><use href="#mS" x="477.7" y="2335"/><use href="#mS" x="522.3" y="2345"/><use href="#mS" x="567" y="2350"/><use href="#mS" x="611.7" y="2361"/><use href="#mS" x="656.4" y="2366"/>
<use href="#mC" x="209.6" y="2116"/><use href="#mC" x="254.3" y="2127"/><use href="#mC" x="299" y="2136"/><use href="#mC" x="343.7" y="2141"/><use href="#mC" x="388.3" y="2150"/><use href="#mC" x="433" y="2179"/><use href="#mC" x="477.7" y="2175"/><use href="#mC" x="522.3" y="2172"/><use href="#mC" x="567" y="2171"/><use href="#mC" x="611.7" y="2170"/><use href="#mC" x="656.4" y="2166"/>
<use href="#mT" x="209.6" y="2351"/><use href="#mT" x="254.3" y="2340"/><use href="#mT" x="299" y="2332"/><use href="#mT" x="343.7" y="2323"/><use href="#mT" x="388.3" y="2312"/><use href="#mT" x="433" y="2284"/><use href="#mT" x="477.7" y="2282"/><use href="#mT" x="522.3" y="2282"/><use href="#mT" x="567" y="2281"/><use href="#mT" x="611.7" y="2280"/><use href="#mT" x="656.4" y="2285"/>
<use href="#mD" x="209.6" y="2210"/><use href="#mD" x="254.3" y="2216"/><use href="#mD" x="299" y="2215"/><use href="#mD" x="343.7" y="2208"/><use href="#mD" x="388.3" y="2198"/><use href="#mD" x="433" y="2191"/><use href="#mD" x="477.7" y="2181"/><use href="#mD" x="522.3" y="2165"/><use href="#mD" x="567" y="2161"/><use href="#mD" x="611.7" y="2154"/><use href="#mD" x="656.4" y="2150"/>
<line x1="498" y1="2090" x2="539" y2="2090" stroke="#444" stroke-width="2.2"/><use href="#mS" x="519" y="2090"/>
<line x1="595" y1="2090" x2="638" y2="2090" stroke="#4455cc" stroke-width="2.2"/><use href="#mT" x="615" y="2090"/>
<line x1="498" y1="2119" x2="539" y2="2119" stroke="#e44" stroke-width="2.2"/><use href="#mC" x="519" y="2119"/>
<line x1="595" y1="2119" x2="638" y2="2119" stroke="#1a9090" stroke-width="2.2"/><use href="#mD" x="615" y="2119"/>
<g class="sf" font-size="26" fill="#111"><text x="545" y="2099">Fe1</text><text x="642" y="2099">Ge</text><text x="545" y="2128">Fe3</text><text x="642" y="2128">Te</text></g>
<g class="sf" font-size="30" text-anchor="end" fill="#222"><text x="153" y="2100">0.3</text><text x="153" y="2154">0.2</text><text x="153" y="2207">0.1</text><text x="153" y="2261">0.0</text><text x="153" y="2315">−0.1</text><text x="153" y="2368">−0.2</text><text x="153" y="2421">−0.3</text></g>
<g class="sf" font-size="30" text-anchor="middle" fill="#222"><text x="157" y="2473">−6</text><text x="246" y="2473">−4</text><text x="336" y="2473">−2</text><text x="433" y="2473">0</text><text x="522" y="2473">2</text><text x="612" y="2473">4</text><text x="701" y="2473">6</text>
<text x="433" y="2506" font-size="33">strain (%)</text></g>
<text class="sf" font-size="35" text-anchor="middle" transform="translate(99,2258) rotate(-90)" textLength="263" lengthAdjust="spacingAndGlyphs">Electron gain and loss (e)</text>

<!-- ================= (m) ================= -->
<text class="pl" x="726" y="1598">(m)</text>
<g transform="translate(700,1540) scale(0.3970,0.6408)" fill="none" stroke-linejoin="round">
<polyline vector-effect="non-scaling-stroke" stroke="#1515e0" stroke-width="2.8" points="302,205 315,240 335,265 355,225 370,235 390,190 405,215 430,220 460,230 495,235 505,100 512,90 520,160 535,215 550,235 565,225 575,250 585,280 600,265 610,275 625,200 640,135 655,195 670,205 685,195 695,210 705,195 718,145 730,165 745,210 770,220 790,255 805,265 820,255 835,265 848,185 858,210 870,245 900,260 920,270 960,255 1000,262 1020,262 1060,268 1080,262 1105,255 1130,272 1200,275 1260,275 1300,278 1350,275 1420,270 1445,255 1470,265 1503,275"/>
<polyline vector-effect="non-scaling-stroke" stroke="#f01515" stroke-width="2.8" points="302,310 320,305 350,300 440,300 460,310 468,340 478,300 510,295 530,320 545,350 560,345 572,370 590,345 610,330 660,315 700,318 715,340 725,420 735,480 745,400 755,370 765,400 772,300 780,290 800,290 835,290 843,380 850,465 860,360 870,345 895,345 910,365 920,400 930,385 950,385 975,395 990,355 1040,310 1060,305 1080,340 1090,430 1100,390 1110,340 1130,305 1170,320 1200,315 1240,310 1270,330 1290,300 1350,295 1400,290 1450,295 1503,290"/>
<polyline vector-effect="non-scaling-stroke" stroke="#1515e0" stroke-width="2.8" points="302,715 312,680 322,605 332,655 345,680 370,690 390,685 400,640 410,580 425,515 440,580 460,610 480,635 495,690 510,705 520,720 530,710 545,720 560,705 575,715 590,680 610,630 625,590 640,640 655,640 670,580 685,630 720,660 760,690 780,710 795,680 810,635 825,690 850,710 880,715 900,720 910,700 940,705 970,710 1000,708 1035,700 1050,715 1100,725 1200,725 1240,718 1300,727 1350,715 1400,705 1440,720 1503,725"/>
<polyline vector-effect="non-scaling-stroke" stroke="#f01515" stroke-width="2.8" points="302,735 345,740 375,775 395,750 440,740 490,760 505,780 515,800 525,765 560,765 600,770 625,790 650,770 680,770 690,830 695,945 700,890 715,850 725,740 760,735 800,740 860,745 875,780 885,865 895,870 900,840 905,940 915,900 930,880 945,840 960,810 990,770 1020,750 1050,745 1065,790 1075,845 1090,800 1110,770 1140,750 1160,785 1180,770 1220,775 1235,750 1280,740 1350,740 1400,735 1450,740 1503,760"/>
<polyline vector-effect="non-scaling-stroke" stroke="#1515e0" stroke-width="2.8" points="302,1095 315,1080 330,1100 345,1120 360,1080 375,1040 388,1005 400,1020 410,1015 425,1065 440,1060 455,1050 470,1035 485,1050 495,1125 510,1140 530,1135 545,1125 560,1115 575,1080 590,1040 600,1010 615,1040 630,1035 650,1070 675,1080 700,1110 730,1120 755,1115 770,1070 785,1105 800,1125 830,1138 870,1132 900,1128 920,1135 960,1133 1000,1138 1050,1142 1100,1145 1200,1147 1280,1140 1320,1140 1340,1120 1360,1140 1400,1145 1503,1147"/>
<polyline vector-effect="non-scaling-stroke" stroke="#f01515" stroke-width="2.8" points="302,1160 340,1155 390,1155 410,1180 430,1205 445,1175 460,1160 530,1165 545,1190 560,1185 600,1200 620,1190 680,1175 690,1230 700,1395 710,1340 720,1210 760,1170 800,1160 850,1160 880,1170 900,1210 920,1260 930,1320 945,1235 960,1270 970,1395 980,1330 995,1250 1010,1200 1030,1180 1060,1170 1080,1230 1095,1225 1110,1255 1120,1205 1140,1175 1165,1210 1190,1190 1215,1215 1230,1165 1280,1158 1320,1160 1400,1160 1450,1170 1465,1190 1480,1160 1503,1165"/>
</g>
<path d="M820 1723H1297M820 2008H1297M820 2276H1297M820 1866H1297M820 2151H1297" stroke="#222" stroke-width="2"/>
<rect x="820" y="1580" width="477" height="855" fill="none" stroke="#222" stroke-width="2.5"/>
<line x1="1059" y1="1580" x2="1059" y2="2435" stroke="#1a9a2a" stroke-width="3" stroke-dasharray="3 4"/>
<g stroke="#222">
<line x1="820" y1="1585" x2="1297" y2="1585" stroke-width="10" stroke-dasharray="2 77.5" stroke-dashoffset="1"/>
<line x1="820" y1="1866" x2="1297" y2="1866" stroke-width="20" stroke-dasharray="2 77.5" stroke-dashoffset="1"/>
<line x1="820" y1="2151" x2="1297" y2="2151" stroke-width="20" stroke-dasharray="2 77.5" stroke-dashoffset="1"/>
<line x1="820" y1="2430" x2="1297" y2="2430" stroke-width="10" stroke-dasharray="2 77.5" stroke-dashoffset="1"/>
<path stroke-width="2" d="M820 1641h10M820 1723h10M820 1804h10M820 1927h10M820 2008h10M820 2089h10M820 2203h10M820 2276h10M820 2348h10M820 2418h10M1297 1641h-10M1297 1723h-10M1297 1804h-10M1297 1927h-10M1297 2008h-10M1297 2089h-10M1297 2203h-10M1297 2276h-10M1297 2348h-10M1297 2418h-10"/>
</g>
<g class="sf" font-size="28" text-anchor="end" fill="#222"><text x="806" y="1651">2</text><text x="806" y="1733">0</text><text x="806" y="1814">−2</text><text x="806" y="1937">2</text><text x="806" y="2018">0</text><text x="806" y="2099">−2</text><text x="806" y="2213">2</text><text x="806" y="2286">0</text><text x="806" y="2358">−2</text><text x="806" y="2428">−4</text></g>
<g class="sf" font-size="28" text-anchor="middle" fill="#222"><text x="813" y="2477">−3</text><text x="893" y="2477">−2</text><text x="972" y="2477">−1</text><text x="1059" y="2477">0</text><text x="1138" y="2477">1</text><text x="1218" y="2477">2</text><text x="1297" y="2477">3</text></g>
<text class="sf" font-size="34" text-anchor="middle" x="1059" y="2513" textLength="175" lengthAdjust="spacingAndGlyphs">Energy (eV)</text>
<text class="sf" font-size="32" text-anchor="middle" transform="translate(762,2005) rotate(-90)" textLength="250" lengthAdjust="spacingAndGlyphs">PDOS (arb.units)</text>
<g class="sf" font-size="32" fill="#222"><text x="1176" y="1627" textLength="101" lengthAdjust="spacingAndGlyphs">Fe1-3d</text><text x="1220" y="1816">-5%</text><text x="1234" y="2107">0%</text><text x="1238" y="2413">5%</text></g>
<g class="sf" font-size="46" fill="#128a58" text-anchor="middle"><text x="1036" y="1650">a</text><text x="1088" y="1857">b</text><text x="1022" y="1936">a</text><text x="1120" y="2139">b</text><text x="1008" y="2216">a</text><text x="1152" y="2415">b</text></g>
<g stroke="#128a58" stroke-width="3"><line x1="1037" y1="1663" x2="1002" y2="1663" marker-end="url(#ahG)"/><line x1="1039" y1="1819" x2="1069" y2="1819" marker-end="url(#ahG)"/><line x1="1022" y1="1949" x2="992" y2="1949" marker-end="url(#ahG)"/><line x1="1063" y1="2122" x2="1095" y2="2122" marker-end="url(#ahG)"/><line x1="1008" y1="2227" x2="974" y2="2227" marker-end="url(#ahG)"/><line x1="1091" y1="2399" x2="1123" y2="2399" marker-end="url(#ahG)"/></g>

<!-- ================= (n) ================= -->
<text class="pl" x="1320" y="1598">(n)</text>
<g transform="translate(1320,1540) scale(0.3950,0.6408)" fill="none" stroke-linejoin="round">
<polyline vector-effect="non-scaling-stroke" stroke="#1515e0" stroke-width="2.8" points="240,205 255,220 275,230 285,160 295,88 305,145 312,160 322,112 332,108 345,130 355,160 370,150 380,210 400,215 430,225 450,190 460,210 480,215 500,225 515,215 530,260 545,240 560,255 580,240 600,225 620,200 640,175 655,185 665,130 675,90 685,135 700,170 715,160 735,185 755,220 770,235 785,225 800,155 810,195 825,230 845,215 860,210 870,250 900,240 920,235 960,240 990,250 1030,248 1070,238 1100,252 1150,258 1200,260 1250,245 1280,255 1350,255 1400,240 1420,225 1440,240 1480,250"/>
<polyline vector-effect="non-scaling-stroke" stroke="#f01515" stroke-width="2.8" points="240,320 260,300 280,310 300,320 330,295 380,290 400,285 420,300 450,295 465,320 475,400 485,500 495,430 505,470 515,440 530,400 545,380 560,310 600,290 640,290 660,295 680,340 690,335 700,315 715,320 730,275 760,270 790,270 830,285 855,300 870,320 880,390 895,380 910,370 925,390 935,410 945,360 965,350 990,345 1015,325 1030,335 1050,410 1060,320 1090,285 1150,295 1200,290 1230,290 1250,275 1300,275 1370,290 1400,280 1480,275"/>
<polyline vector-effect="non-scaling-stroke" stroke="#1515e0" stroke-width="2.8" points="240,700 250,650 262,550 270,610 285,665 310,675 340,650 355,615 368,570 385,620 405,650 430,680 445,700 470,720 490,710 510,705 530,700 550,690 575,680 595,655 615,580 625,595 640,620 660,610 680,630 700,670 720,700 740,680 755,600 765,590 780,660 800,700 830,710 855,720 870,690 900,695 930,690 955,690 968,675 985,695 1000,700 1030,715 1060,725 1100,725 1150,720 1200,725 1215,695 1250,710 1300,725 1350,705 1380,705 1420,715 1480,720"/>
<polyline vector-effect="non-scaling-stroke" stroke="#f01515" stroke-width="2.8" points="240,735 290,740 315,770 335,745 380,745 410,760 440,780 455,830 462,925 470,850 490,800 510,810 525,840 540,810 560,830 575,845 590,800 610,780 630,780 645,830 660,800 680,750 720,740 780,745 830,755 855,780 870,820 890,845 905,870 925,840 950,800 980,770 1010,760 1025,780 1035,860 1050,810 1070,760 1100,750 1130,770 1160,765 1190,760 1210,740 1280,740 1330,745 1380,740 1420,742 1480,755"/>
<polyline vector-effect="non-scaling-stroke" stroke="#1515e0" stroke-width="2.8" points="240,1125 260,1120 290,1140 310,1120 325,1030 340,1050 350,1010 365,1080 380,1110 395,1110 410,1085 425,1105 440,1155 460,1160 480,1140 495,1120 510,1110 530,1115 545,1095 560,1100 578,1030 590,1025 605,1050 620,1055 635,1020 650,1080 665,1110 685,1130 700,1150 715,1110 728,990 745,1100 760,1140 780,1150 800,1140 830,1130 870,1135 900,1135 940,1130 960,1108 975,1155 1000,1160 1050,1165 1080,1160 1120,1160 1140,1155 1180,1145 1200,1160 1250,1168 1290,1160 1300,1125 1320,1150 1350,1160 1400,1165 1480,1168"/>
<polyline vector-effect="non-scaling-stroke" stroke="#f01515" stroke-width="2.8" points="240,1210 270,1200 290,1210 315,1200 345,1185 375,1235 390,1200 410,1185 460,1200 480,1230 492,1300 505,1275 525,1265 545,1280 560,1240 580,1210 610,1200 630,1245 650,1330 660,1365 670,1320 695,1240 720,1210 760,1200 800,1195 840,1200 860,1215 875,1260 890,1280 900,1245 915,1265 925,1345 935,1310 950,1280 970,1250 1000,1230 1020,1215 1040,1240 1052,1295 1065,1240 1090,1205 1110,1245 1130,1220 1160,1210 1190,1180 1220,1185 1250,1195 1280,1180 1300,1220 1320,1190 1360,1190 1400,1195 1430,1215 1450,1195 1480,1195"/>
</g>
<path d="M1415 1709H1905M1415 2008H1905M1415 2292H1905M1415 1866H1905M1415 2151H1905" stroke="#222" stroke-width="2"/>
<rect x="1415" y="1580" width="490" height="855" fill="none" stroke="#222" stroke-width="2.5"/>
<line x1="1660" y1="1580" x2="1660" y2="2435" stroke="#1a9a2a" stroke-width="3" stroke-dasharray="3 4"/>
<g stroke="#222">
<line x1="1415" y1="1585" x2="1905" y2="1585" stroke-width="10" stroke-dasharray="2 79.67" stroke-dashoffset="1"/>
<line x1="1415" y1="1866" x2="1905" y2="1866" stroke-width="20" stroke-dasharray="2 79.67" stroke-dashoffset="1"/>
<line x1="1415" y1="2151" x2="1905" y2="2151" stroke-width="20" stroke-dasharray="2 79.67" stroke-dashoffset="1"/>
<line x1="1415" y1="2430" x2="1905" y2="2430" stroke-width="10" stroke-dasharray="2 79.67" stroke-dashoffset="1"/>
<path stroke-width="2" d="M1415 1606h10M1415 1709h10M1415 1812h10M1415 1912h10M1415 2008h10M1415 2103h10M1415 2198h10M1415 2292h10M1415 2387h10M1905 1606h-10M1905 1709h-10M1905 1812h-10M1905 1912h-10M1905 2008h-10M1905 2103h-10M1905 2198h-10M1905 2292h-10M1905 2387h-10"/>
</g>
<g class="sf" font-size="28" text-anchor="end" fill="#222"><text x="1402" y="1616">2</text><text x="1402" y="1719">0</text><text x="1402" y="1822">−2</text><text x="1402" y="1922">2</text><text x="1402" y="2018">0</text><text x="1402" y="2113">−2</text><text x="1402" y="2208">2</text><text x="1402" y="2302">0</text><text x="1402" y="2397">−2</text></g>
<g class="sf" font-size="28" text-anchor="middle" fill="#222"><text x="1408" y="2477">−3</text><text x="1490" y="2477">−2</text><text x="1571" y="2477">−1</text><text x="1660" y="2477">0</text><text x="1742" y="2477">1</text><text x="1823" y="2477">2</text><text x="1905" y="2477">3</text></g>
<text class="sf" font-size="34" text-anchor="middle" x="1660" y="2513" textLength="175" lengthAdjust="spacingAndGlyphs">Energy (eV)</text>
<text class="sf" font-size="32" text-anchor="middle" transform="translate(1361,2005) rotate(-90)" textLength="250" lengthAdjust="spacingAndGlyphs">PDOS (arb.units)</text>
<g class="sf" font-size="32" fill="#222"><text x="1772" y="1627" textLength="99" lengthAdjust="spacingAndGlyphs">Fe3-3d</text><text x="1828" y="1822">-5%</text><text x="1832" y="2120">0%</text><text x="1837" y="2405">5%</text></g>
<g class="sf" font-size="46" fill="#128a58" text-anchor="middle"><text x="1638" y="1617">a</text><text x="1701" y="1848">b</text><text x="1622" y="1907">a</text><text x="1686" y="2143">b</text><text x="1638" y="2189">a</text><text x="1747" y="2417">b</text></g>
<g stroke="#128a58" stroke-width="3"><line x1="1636" y1="1636" x2="1606" y2="1636" marker-end="url(#ahG)"/><line x1="1689" y1="1793" x2="1719" y2="1793" marker-end="url(#ahG)"/><line x1="1620" y1="1925" x2="1587" y2="1925" marker-end="url(#ahG)"/><line x1="1677" y1="2088" x2="1711" y2="2088" marker-end="url(#ahG)"/><line x1="1608" y1="2183" x2="1575" y2="2183" marker-end="url(#ahG)"/><line x1="1689" y1="2393" x2="1721" y2="2393" marker-end="url(#ahG)"/></g>

</svg>
</body></html>
